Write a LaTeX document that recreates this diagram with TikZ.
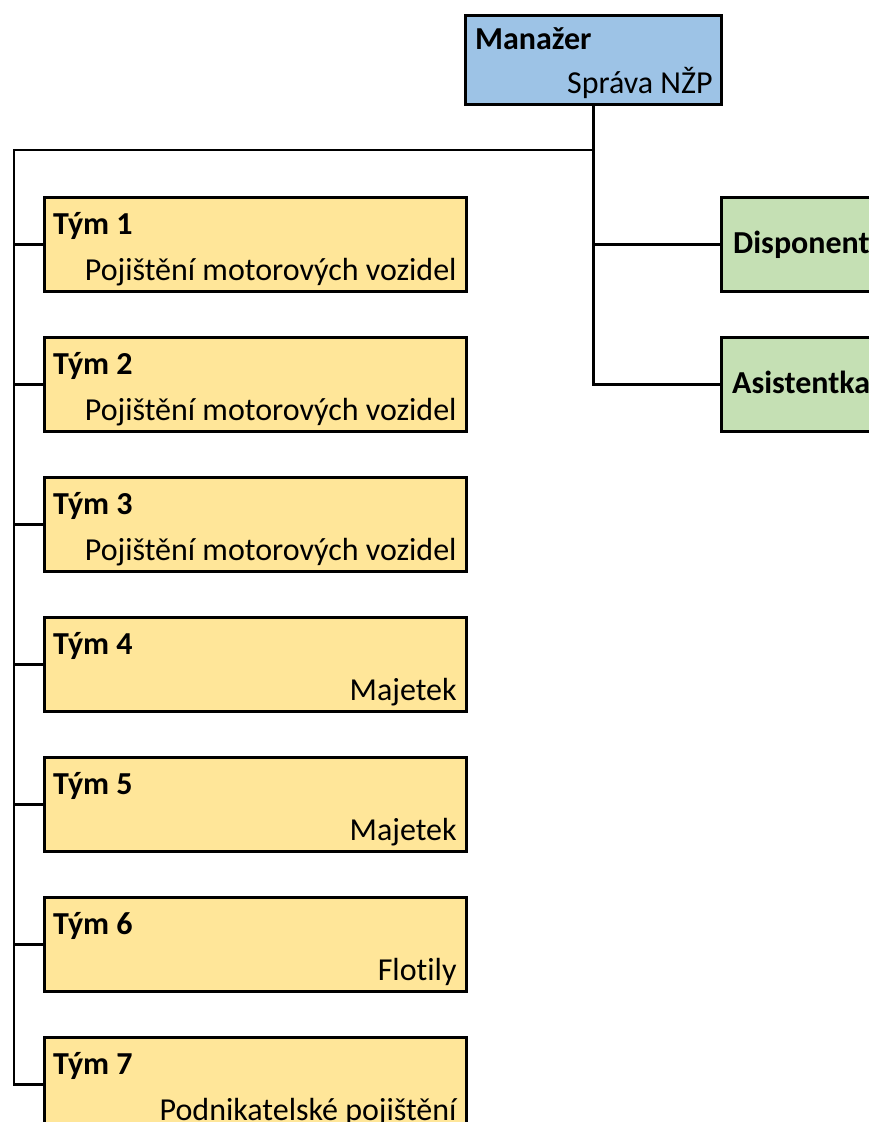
\documentclass[tikz,border=0pt]{standalone}
\usepackage{fontspec}
\setmainfont[Ligatures=NoCommon]{Carlito}
\usetikzlibrary{calc}
\definecolor{mblue}{HTML}{9DC3E6}
\definecolor{tyellow}{HTML}{FFE699}
\definecolor{sgreen}{HTML}{C5E0B4}
\tikzset{
  box/.style={draw=black, line width=2.8pt, anchor=north west, inner sep=0pt},
  conn/.style={draw=black, line width=2.8pt},
  head/.style={anchor=base west, font=\fontsize{32}{38}\selectfont\bfseries, inner sep=0pt},
  sub/.style={anchor=base east, font=\fontsize{32}{38}\selectfont, inner sep=0pt},
}
\begin{document}
\begin{tikzpicture}[x=1pt,y=-1pt]
\useasboundingbox (0,0) rectangle (869,1122);
\clip (0,0) rectangle (869,1122);
\fill[white] (0,0) rectangle (869,1122);
% manager
\node[box, fill=mblue, minimum width=256pt, minimum height=89pt] (m) at (464,14) {};
\node[head] (mh) at ($(m.north west)+(11,35)$) {Manažer};
\node[sub] (ms) at ($(m.north east)+(-10,79)$) {Správa NŽP};
% staff
\node[box, fill=sgreen, minimum width=180pt, minimum height=94pt] (d) at (720,196) {};
\node[head] (dh) at (733,253) {Disponent};
\node[box, fill=sgreen, minimum width=180pt, minimum height=94pt] (a) at (720,336) {};
\node[head] (ah) at (732,393) {Asistentka};
% teams
\foreach \i/\s in {1/Pojištění motorových vozidel,2/Pojištění motorových vozidel,3/Pojištění motorových vozidel,4/Majetek,5/Majetek,6/Flotily,7/Podnikatelské pojištění}{
  \node[box, fill=tyellow, minimum width=422pt, minimum height=94pt] (t\i) at (43,{196+140*(\i-1)}) {};
  \node[head] (th\i) at ($(t\i.north west)+(10,38)$) {Tým \i};
  \node[sub] (ts\i) at ($(t\i.north east)+(-11,84)$) {\s};
}
% connectors
\coordinate (top) at (14,150);
\draw[conn] (m.south) |- (top) -- (top |- t7.west) -- (t7.west);
\foreach \i in {1,...,6}{
  \draw[conn] (top |- t\i.west) -- (t\i.west);
}
\draw[conn] (m.south) |- (a.west);
\draw[conn] (m.south |- d.west) -- (d.west);
\end{tikzpicture}
\end{document}
